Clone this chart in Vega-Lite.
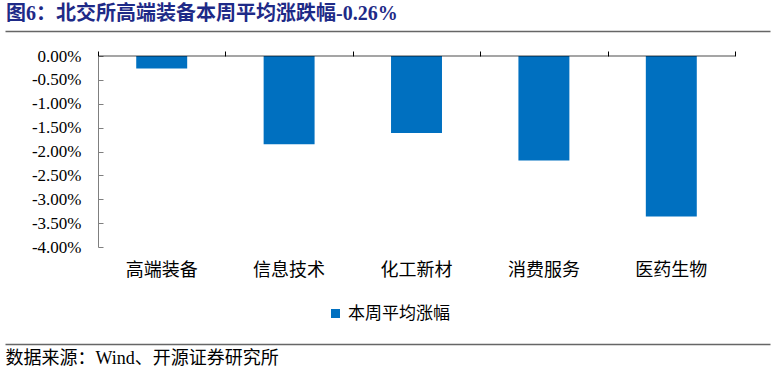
{
  "$schema": "https://vega.github.io/schema/vega-lite/v6.json",
  "autosize": "none",
  "width": 765,
  "height": 191,
  "padding": {"left": 5, "top": 56, "right": 4, "bottom": 127},
  "background": "white",
  "title": {
    "text": "图6：北交所高端装备本周平均涨跌幅-0.26%",
    "anchor": "start",
    "frame": "group",
    "orient": "top",
    "dx": 1,
    "offset": 7,
    "font": "Liberation Serif, Noto Sans CJK SC",
    "fontSize": 20,
    "fontWeight": "bold",
    "color": "#1e2a87"
  },
  "config": {
    "view": {"stroke": null},
    "axis": {"grid": false}
  },
  "data": {
    "values": [
      {"category": "高端装备", "value": -0.26, "series": "本周平均涨幅"},
      {"category": "信息技术", "value": -1.85, "series": "本周平均涨幅"},
      {"category": "化工新材", "value": -1.61, "series": "本周平均涨幅"},
      {"category": "消费服务", "value": -2.19, "series": "本周平均涨幅"},
      {"category": "医药生物", "value": -3.36, "series": "本周平均涨幅"}
    ]
  },
  "resolve": {"axis": {"x": "independent", "y": "independent"}},
  "layer": [
    {
      "mark": {"type": "bar", "width": {"band": 0.4}},
      "encoding": {
        "x": {
          "field": "category",
          "type": "nominal",
          "sort": null,
          "scale": {"paddingInner": 0, "paddingOuter": 0.5024, "align": 0.7266},
          "axis": {
            "orient": "top",
            "offset": 0,
            "domain": false,
            "labels": false,
            "ticks": true,
            "tickBand": "extent",
            "tickSize": 5,
            "tickColor": "#000000",
            "tickWidth": 1,
            "title": null
          }
        },
        "y": {
          "field": "value",
          "type": "quantitative",
          "scale": {"domain": [-4, 0], "nice": false},
          "axis": {
            "orient": "left",
            "offset": -93,
            "values": [-4, -3.5, -3, -2.5, -2, -1.5, -1, -0.5, 0],
            "labelExpr": "(datum.value < 0 ? '-' : '') + format(abs(datum.value), '.2f') + '%'",
            "labelFont": "Liberation Serif",
            "labelFontSize": 17,
            "labelColor": "#000000",
            "labelPadding": 22,
            "domainColor": "#7f7f7f",
            "domainWidth": 1,
            "tickColor": "#7f7f7f",
            "tickSize": -5,
            "title": null
          }
        },
        "color": {
          "field": "series",
          "type": "nominal",
          "scale": {"range": ["#0070C0"]},
          "legend": {
            "orient": "none",
            "legendX": 322,
            "legendY": 249,
            "title": null,
            "symbolType": "square",
            "symbolSize": 81,
            "symbolStrokeWidth": 0,
            "labelFont": "Noto Sans CJK SC",
            "labelFontSize": 17,
            "labelColor": "#000000"
          }
        }
      }
    },
    {
      "mark": {"type": "tick", "orient": "horizontal", "size": 127.4, "thickness": 1.2, "color": "#000000"},
      "encoding": {
        "x": {
          "field": "category",
          "type": "nominal",
          "sort": null,
          "axis": {
            "orient": "top",
            "offset": 25,
            "domain": true,
            "domainColor": "#666666",
            "domainWidth": 1.5,
            "labels": false,
            "ticks": false,
            "title": null
          }
        },
        "y": {"datum": 0, "type": "quantitative", "axis": null}
      }
    },
    {
      "mark": {"type": "text", "text": ""},
      "encoding": {
        "x": {
          "field": "category",
          "type": "nominal",
          "sort": null,
          "axis": {
            "orient": "bottom",
            "offset": 97,
            "domain": true,
            "domainColor": "#666666",
            "domainWidth": 1.5,
            "ticks": false,
            "labels": true,
            "labelAngle": 0,
            "labelBaseline": "middle",
            "labelPadding": -74,
            "labelFont": "Noto Sans CJK SC",
            "labelFontSize": 18,
            "labelColor": "#000000",
            "title": "数据来源：Wind、开源证券研究所",
            "titleX": 0,
            "titleY": 14,
            "titleAnchor": "start",
            "titleAlign": "left",
            "titleBaseline": "middle",
            "titleFont": "Liberation Serif, Noto Sans CJK SC",
            "titleFontSize": 18,
            "titleFontWeight": "normal",
            "titleColor": "#000000"
          }
        }
      }
    }
  ]
}
